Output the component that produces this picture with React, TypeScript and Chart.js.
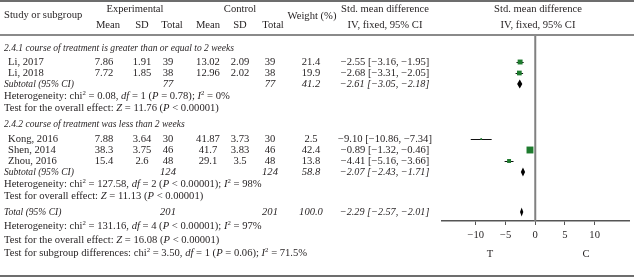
import React, { useEffect, useRef } from "react";
import { Chart, registerables } from "chart.js";
Chart.register(...registerables);

// ---------- data ----------
const studies = ["Li, 2017", "Li, 2018", "Kong, 2016", "Shen, 2014", "Zhou, 2016"];
const expMean = ["7.86", "7.72", "7.88", "38.3", "15.4"];
const expSD = ["1.91", "1.85", "3.64", "3.75", "2.6"];
const expTotal = ["39", "38", "30", "46", "48"];
const ctrlMean = ["13.02", "12.96", "41.87", "41.7", "29.1"];
const ctrlSD = ["2.09", "2.02", "3.73", "3.83", "3.5"];
const ctrlTotal = ["39", "38", "30", "46", "48"];
const weight = [21.4, 19.9, 2.5, 42.4, 13.8];
const smd = [-2.55, -2.68, -9.1, -0.89, -4.41];
const lower = [-3.16, -3.31, -10.86, -1.32, -5.16];
const upper = [-1.95, -2.05, -7.34, -0.46, -3.66];

const pooledLabel = ["Subtotal (95% CI)", "Subtotal (95% CI)", "Total (95% CI)"];
const pooledExpTotal = ["77", "124", "201"];
const pooledCtrlTotal = ["77", "124", "201"];
const pooledWeight = ["41.2", "58.8", "100.0"];
const pooledSmd = [-2.61, -2.07, -2.29];
const pooledLower = [-3.05, -2.43, -2.57];
const pooledUpper = [-2.18, -1.71, -2.01];

const xTicks = [-10, -5, 0, 5, 10];
const xMin = -15.7;
const xMax = 15.8;

// ---------- layout (row centres in px) ----------
const studyRowY = [62, 73, 139, 150, 161];
const pooledRowY = [84, 172, 212];
const AXIS_Y = 221;
const PLOT_TOP = 35;
const PLOT_LEFT = 442;
const W = 634;
const H = 278;

const TEXT = "#231f20";
const GREEN = "#1e7b2e";
const FONT = "'Liberation Serif', 'Times New Roman', serif";
const FS = 10.6;
const ITALIC_SX = 0.9;

const fmt = (v: number) => v.toFixed(2).replace("-", "\u2212");
const ciText = (m: number, l: number, u: number) => `${fmt(m)} [${fmt(l)}, ${fmt(u)}]`;

type TP = {
  x: number;
  y: number;
  align?: "left" | "center";
  italic?: boolean;
  sx?: number;
  children: React.ReactNode;
};
function Tx({ x, y, align = "left", italic, sx, children }: TP) {
  const style: React.CSSProperties = {
    position: "absolute",
    top: y - 6,
    height: 12,
    lineHeight: "12px",
    whiteSpace: "nowrap",
    fontStyle: italic ? "italic" : "normal",
  };
  if (align === "center") {
    style.left = x - 100;
    style.width = 200;
    style.textAlign = "center";
  } else {
    style.left = x;
  }
  const inner = sx ? (
    <span
      style={{
        display: "inline-block",
        transform: `scaleX(${sx})`,
        transformOrigin: align === "center" ? "50% 50%" : "0 50%",
      }}
    >
      {children}
    </span>
  ) : (
    children
  );
  return <div style={style}>{inner}</div>;
}

const I = ({ children }: { children: React.ReactNode }) => <i>{children}</i>;
const Sup = ({ children }: { children: React.ReactNode }) => (
  <sup style={{ fontSize: "6.8px", verticalAlign: "4px", lineHeight: 0 }}>{children}</sup>
);

const COL = { eMean: 104, eSD: 142, eTot: 168, cMean: 208, cSD: 240, cTot: 270, wt: 311, ci: 385 };

export default function App() {
  const ref = useRef<HTMLCanvasElement | null>(null);

  useEffect(() => {
    if (!ref.current) return;
    const forestPlugin = {
      id: "forest",
      beforeDatasetsDraw(chart: any) {
        const { ctx, chartArea } = chart;
        const xs = chart.scales.x;
        const ys = chart.scales.y;
        ctx.save();
        const x0 = xs.getPixelForValue(0);
        ctx.strokeStyle = "#808080";
        ctx.lineWidth = 2;
        ctx.beginPath();
        ctx.moveTo(x0, chartArea.top);
        ctx.lineTo(x0, chartArea.bottom);
        ctx.stroke();
        ctx.strokeStyle = "#111";
        ctx.lineWidth = 1;
        for (let i = 0; i < smd.length; i++) {
          const y = Math.round(ys.getPixelForValue(studyRowY[i])) + 0.5;
          ctx.beginPath();
          ctx.moveTo(xs.getPixelForValue(lower[i]), y);
          ctx.lineTo(xs.getPixelForValue(upper[i]), y);
          ctx.stroke();
        }
        ctx.restore();
      },
      afterDatasetsDraw(chart: any) {
        const { ctx } = chart;
        const xs = chart.scales.x;
        const ys = chart.scales.y;
        ctx.save();
        ctx.fillStyle = "#000";
        for (let i = 0; i < pooledSmd.length; i++) {
          const y = ys.getPixelForValue(pooledRowY[i]);
          const xl = xs.getPixelForValue(pooledLower[i]);
          const xm = xs.getPixelForValue(pooledSmd[i]);
          const xu = xs.getPixelForValue(pooledUpper[i]);
          ctx.beginPath();
          ctx.moveTo(xl, y);
          ctx.lineTo(xm, y - 4.5);
          ctx.lineTo(xu, y);
          ctx.lineTo(xm, y + 4.5);
          ctx.closePath();
          ctx.fill();
        }
        ctx.restore();
      },
    };

    const chart = new Chart(ref.current, {
      type: "scatter",
      data: {
        datasets: [
          {
            data: smd.map((v, i) => ({ x: v, y: studyRowY[i] })),
            pointStyle: "rect",
            pointRadius: weight.map((w) => Math.sqrt(w) * 0.75),
            backgroundColor: GREEN,
            borderColor: GREEN,
            borderWidth: 0,
          },
        ],
      },
      options: {
        animation: false,
        responsive: false,
        events: [],
        layout: { padding: { left: PLOT_LEFT, top: PLOT_TOP, right: 0, bottom: 0 } },
        plugins: { legend: { display: false }, tooltip: { enabled: false } },
        scales: {
          x: {
            type: "linear",
            min: xMin,
            max: xMax,
            afterBuildTicks: (s: any) => {
              s.ticks = xTicks.map((v) => ({ value: v }));
            },
            afterFit: (s: any) => {
              s.height = H - AXIS_Y;
            },
            grid: { drawOnChartArea: false, drawTicks: true, tickLength: 4, color: "#555", lineWidth: 1 },
            border: { display: true, color: "#555", width: 1.5 },
            ticks: {
              padding: 4,
              color: TEXT,
              font: { family: FONT, size: FS },
              maxRotation: 0,
              callback: (v: any) => String(v).replace("-", "\u2212"),
            },
          },
          y: {
            type: "linear",
            display: false,
            reverse: true,
            min: PLOT_TOP,
            max: AXIS_Y,
          },
        },
      },
      plugins: [forestPlugin],
    } as any);
    return () => chart.destroy();
  }, []);

  const studyRows = studies.map((s, i) => {
    const y = studyRowY[i];
    return (
      <React.Fragment key={s}>
        <Tx x={8} y={y}>{s}</Tx>
        <Tx x={COL.eMean} y={y} align="center">{expMean[i]}</Tx>
        <Tx x={COL.eSD} y={y} align="center">{expSD[i]}</Tx>
        <Tx x={COL.eTot} y={y} align="center">{expTotal[i]}</Tx>
        <Tx x={COL.cMean} y={y} align="center">{ctrlMean[i]}</Tx>
        <Tx x={COL.cSD} y={y} align="center">{ctrlSD[i]}</Tx>
        <Tx x={COL.cTot} y={y} align="center">{ctrlTotal[i]}</Tx>
        <Tx x={COL.wt} y={y} align="center">{weight[i].toFixed(1)}</Tx>
        <Tx x={COL.ci} y={y} align="center">{ciText(smd[i], lower[i], upper[i])}</Tx>
      </React.Fragment>
    );
  });

  const pooledRows = pooledLabel.map((s, i) => {
    const y = pooledRowY[i];
    return (
      <React.Fragment key={"p" + i}>
        <Tx x={4} y={y} italic sx={ITALIC_SX}>{s}</Tx>
        <Tx x={COL.eTot} y={y} align="center" italic>{pooledExpTotal[i]}</Tx>
        <Tx x={COL.cTot} y={y} align="center" italic>{pooledCtrlTotal[i]}</Tx>
        <Tx x={COL.wt} y={y} align="center" italic>{pooledWeight[i]}</Tx>
        <Tx x={COL.ci} y={y} align="center" italic sx={0.96}>{ciText(pooledSmd[i], pooledLower[i], pooledUpper[i])}</Tx>
      </React.Fragment>
    );
  });

  return (
    <div
      style={{
        position: "fixed",
        left: 0,
        top: 0,
        width: W,
        height: H,
        background: "#fff",
        fontFamily: FONT,
        fontSize: FS + "px",
        color: TEXT,
        overflow: "hidden",
      }}
    >
      <canvas ref={ref} width={W} height={H} style={{ position: "absolute", left: 0, top: 0 }} />
      <div style={{ position: "absolute", left: 0, top: 0, width: W, height: 2, background: "#6d6d6d" }} />
      <div style={{ position: "absolute", left: 0, top: 34, width: W, height: 2, background: "#8a8a8a" }} />
      <div style={{ position: "absolute", left: 0, top: 275, width: W, height: 2, background: "#6d6d6d" }} />

      <Tx x={4} y={15}>Study or subgroup</Tx>
      <Tx x={135} y={9} align="center">Experimental</Tx>
      <Tx x={240} y={9} align="center">Control</Tx>
      <Tx x={108} y={25} align="center">Mean</Tx>
      <Tx x={142} y={25} align="center">SD</Tx>
      <Tx x={172} y={25} align="center">Total</Tx>
      <Tx x={208} y={25} align="center">Mean</Tx>
      <Tx x={240} y={25} align="center">SD</Tx>
      <Tx x={273} y={25} align="center">Total</Tx>
      <Tx x={312} y={16} align="center">Weight (%)</Tx>
      <Tx x={385} y={9} align="center">Std. mean difference</Tx>
      <Tx x={385} y={25} align="center">IV, fixed, 95% CI</Tx>
      <Tx x={538} y={9} align="center">Std. mean difference</Tx>
      <Tx x={538} y={25} align="center">IV, fixed, 95% CI</Tx>

      <Tx x={4} y={48} italic sx={ITALIC_SX}>2.4.1 course of treatment is greater than or equal to 2 weeks</Tx>
      <Tx x={4} y={124} italic sx={ITALIC_SX}>2.4.2 course of treatment was less than 2 weeks</Tx>
      {studyRows}
      {pooledRows}

      <Tx x={4} y={96}>
        Heterogeneity: chi<Sup>2</Sup> = 0.08, <I>df</I> = 1 (<I>P</I> = 0.78); <I>I</I><Sup>2</Sup> = 0%
      </Tx>
      <Tx x={4} y={108}>
        Test for the overall effect: <I>Z</I> = 11.76 (<I>P</I> &lt; 0.00001)
      </Tx>
      <Tx x={4} y={184}>
        Heterogeneity: chi<Sup>2</Sup> = 127.58, <I>df</I> = 2 (<I>P</I> &lt; 0.00001); <I>I</I><Sup>2</Sup> = 98%
      </Tx>
      <Tx x={4} y={196}>
        Test for overall effect: <I>Z</I> = 11.13 (<I>P</I> &lt; 0.00001)
      </Tx>
      <Tx x={4} y={226}>
        Heterogeneity: chi<Sup>2</Sup> = 131.16, <I>df</I> = 4 (<I>P</I> &lt; 0.00001); <I>I</I><Sup>2</Sup> = 97%
      </Tx>
      <Tx x={4} y={240}>
        Test for the overall effect: <I>Z</I> = 16.08 (<I>P</I> &lt; 0.00001)
      </Tx>
      <Tx x={4} y={253}>
        Test for subgroup differences: chi<Sup>2</Sup> = 3.50, <I>df</I> = 1 (<I>P</I> = 0.06); <I>I</I><Sup>2</Sup> = 71.5%
      </Tx>

      <Tx x={490} y={254} align="center">T</Tx>
      <Tx x={586} y={254} align="center">C</Tx>
    </div>
  );
}
